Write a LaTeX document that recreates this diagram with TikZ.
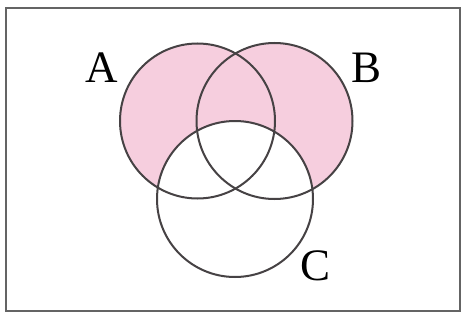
\documentclass[tikz,border=0pt]{standalone}
\usepackage{fontspec}
\setmainfont{Liberation Serif}
\definecolor{venpink}{RGB}{246,206,222}
\definecolor{venline}{RGB}{70,66,68}
\definecolor{frame}{RGB}{100,100,100}
\begin{document}
\begin{tikzpicture}[x=1pt,y=-1pt,
  circ/.style={draw=venline,line width=2pt},
  lbl/.style={font=\fontsize{45}{47}\selectfont,inner sep=0pt,text=black}]
\useasboundingbox (0,0) rectangle (464,324);
\fill[white] (0,0) rectangle (464,324);
\draw[frame,line width=2.5pt] (6,8) rectangle (460,311);
\coordinate (cA) at (197.5,121);
\coordinate (cB) at (274.5,121);
\coordinate (cC) at (235,199);
\fill[venpink] (cA) circle (77.5);
\fill[venpink] (cB) circle (78);
\fill[white] (cC) circle (78);
\draw[circ] (cA) circle (77.5);
\draw[circ] (cB) circle (78);
\draw[circ] (cC) circle (78);
\node[lbl] (lA) at (102,68) {A};
\node[lbl] (lB) at (367,68) {B};
\node[lbl] (lC) at (316,266) {C};
\end{tikzpicture}
\end{document}
